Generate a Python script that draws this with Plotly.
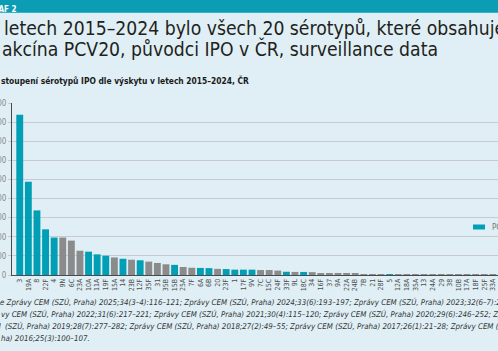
import plotly.graph_objects as go

# ---- data ----
serotypes = ["3", "19A", "8", "22F", "4", "9N", "6C", "23A", "10A", "11A",
             "19F", "15A", "14", "23B", "12F", "35F", "31", "35B", "15B", "25A",
             "7F", "6A", "6B", "20", "23F", "1", "17F", "9V", "7C", "15C",
             "24F", "33F", "9L", "18C", "34", "16F", "37", "9A", "22A", "24B",
             "7B", "21", "28F", "5", "12A", "18A", "35A", "13", "24A", "29",
             "38", "10B", "17A", "18F", "25F", "33A"]
cases = [838, 488, 338, 239, 196, 196, 180, 127, 122, 108,
         101, 92, 85, 80, 77, 70, 63, 56, 53, 42,
         38, 37, 36, 32, 31, 28, 28, 28, 26, 26,
         23, 17, 16, 16, 15, 10, 9, 8, 7, 6,
         5, 5, 5, 4, 3, 3, 3, 2, 2, 2,
         2, 2, 2, 1, 1, 1]
# 1 = highlighted (teal) as drawn in the reference, 0 = grey
in_pcv20 = [1, 1, 1, 1, 1, 0, 0, 0, 1, 1,
            1, 0, 1, 0, 1, 0, 0, 0, 1, 0,
            0, 1, 1, 0, 1, 1, 1, 1, 0, 0,
            0, 1, 0, 1, 0, 0, 0, 0, 0, 0,
            0, 0, 0, 1, 0, 0, 0, 0, 0, 0,
            0, 0, 0, 0, 0, 0]
y_ticks = [0, 100, 200, 300, 400, 500, 600, 700, 800, 900]

TEAL = "#009fb5"
GREY = "#8b8b8b"
BG = "#dfeff5"
FONT = "DejaVu Sans Condensed, Roboto, sans-serif"

W, H = 498, 351
ML, MR, MT, MB = 12, 0, 103, 76
PW = W - ML - MR
PH = H - MT - MB


def px(x):
    return (x - ML) / PW


def py(y):
    return (H - MB - y) / PH


colors = [TEAL if f else GREY for f in in_pcv20]

fig = go.Figure()
fig.add_trace(go.Bar(
    x=serotypes, y=cases,
    marker=dict(color=colors, line=dict(width=0)),
    textposition="none", showlegend=False, hoverinfo="x+y",
))

fig.update_layout(
    width=W, height=H,
    margin=dict(l=ML, r=MR, t=MT, b=MB, pad=0),
    paper_bgcolor=BG, plot_bgcolor=BG,
    bargap=0.2,
    font=dict(family=FONT, color="#333"),
    xaxis=dict(
        type="category", range=[-0.9, 55.6], automargin=False,
        tickangle=-90, tickfont=dict(size=7, color="#4d4d4d"),
        showline=True, linecolor="#4a4a4a", linewidth=1,
        ticks="", showgrid=False, fixedrange=True,
    ),
    yaxis=dict(
        range=[0, 900], tickvals=y_ticks, automargin=False,
        tickfont=dict(size=8, color="#8a8a8a"),
        showgrid=True, gridcolor="#c6cbd0", gridwidth=1,
        ticks="outside", ticklen=3, tickcolor="#c6cbd0",
        showline=True, linecolor="#4a4a4a", linewidth=1,
        zeroline=False, fixedrange=True,
    ),
)

shapes = []
annotations = []

# top band
shapes.append(dict(type="rect", xref="paper", yref="paper",
                   x0=px(-2), x1=px(W + 2), y0=py(12.7), y1=py(-2),
                   fillcolor="#0b9db3", line=dict(width=0), layer="above"))
annotations.append(dict(text="<b>GRAF 2</b>", xref="paper", yref="paper",
                        x=px(17.5), y=py(9.3), xanchor="right", yanchor="middle",
                        showarrow=False, font=dict(size=8, color="white", family=FONT)))


def cut_line(prefix, main, xstart, ycenter, size, color, gap=0.0, wrap=None):
    t_pre = prefix if wrap is None else wrap.format(prefix)
    t_main = main if wrap is None else wrap.format(main)
    annotations.append(dict(text=t_pre, xref="paper", yref="paper",
                            x=px(xstart - gap), y=py(ycenter), xanchor="right", yanchor="middle",
                            showarrow=False, borderpad=0,
                            font=dict(size=size, color=color, family=FONT)))
    annotations.append(dict(text=t_main, xref="paper", yref="paper",
                            x=px(xstart), y=py(ycenter), xanchor="left", yanchor="middle",
                            showarrow=False, borderpad=0,
                            font=dict(size=size, color=color, family=FONT)))


# title
cut_line("V", "letech 2015–2024 bylo všech 20 sérotypů, které obsahuje", 3, 28.5, 19.2, "#231f20", gap=5)
cut_line("v", "akcína PCV20, původci IPO v ČR, surveillance data", 0.5, 48.5, 19.2, "#231f20")
# subtitle
cut_line("Za", "stoupení sérotypů IPO dle výskytu v letech 2015–2024, ČR", 0, 80, 8.4, "#1a1a1a",
         wrap="<b>{}</b>")

# source lines
src = [
    ("Zdroj: data převzata z", "e Zprávy CEM (SZÚ, Praha) 2025;34(3–4):116–121; Zprávy CEM (SZÚ, Praha) 2024;33(6):193–197; Zprávy CEM (SZÚ, Praha) 2023;32(6–7):261–266;", -1.5, 301.5, 0),
    ("Zprá", "vy CEM (SZÚ, Praha) 2022;31(6):217–221; Zprávy CEM (SZÚ, Praha) 2021;30(4):115–120; Zprávy CEM (SZÚ, Praha) 2020;29(6):246–252; Zprávy CEM", 0, 313.8, 0),
    ("Zprávy CEM", "(SZÚ, Praha) 2019;28(7):277–282; Zprávy CEM (SZÚ, Praha) 2018;27(2):49–55; Zprávy CEM (SZÚ, Praha) 2017;26(1):21–28; Zprávy CEM (SZÚ,", 4, 326, 2.5),
    ("Pra", "ha) 2016;25(3):100–107.", 0, 338, 0),
]
for pre, main, xs, yc, g in src:
    cut_line(pre, main, xs, yc, 7.9, "#333333", gap=g, wrap="<i>{}</i>")

# legend
shapes.append(dict(type="rect", xref="paper", yref="paper",
                   x0=px(473), x1=px(485), y0=py(229.5), y1=py(224.5),
                   fillcolor=TEAL, line=dict(width=0), layer="above"))
annotations.append(dict(text="PCV20", xref="paper", yref="paper",
                        x=px(491), y=py(227), xanchor="left", yanchor="middle",
                        showarrow=False, borderpad=0,
                        font=dict(size=8, color="#777", family=FONT)))

fig.update_layout(shapes=shapes, annotations=annotations)
fig.write_html("out.html")
